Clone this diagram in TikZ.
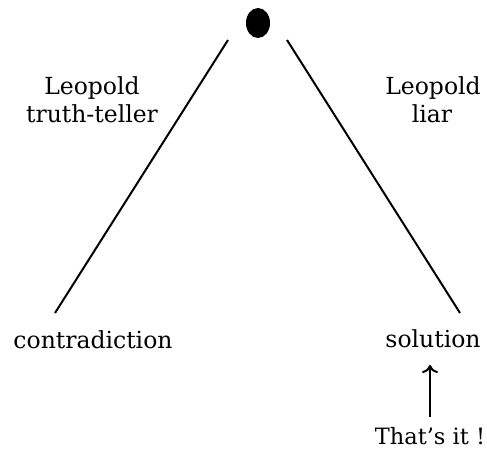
\documentclass[tikz,border=0pt]{standalone}
\usepackage{fontspec}
\setmainfont{DejaVu Serif}
\usetikzlibrary{shapes.geometric,arrows.meta}
\tikzset{
  lbl/.style={anchor=base, inner sep=0pt, font=\fontsize{23.5}{28}\selectfont},
  small lbl/.style={lbl, font=\fontsize{22.5}{27}\selectfont},
  branch/.style={line width=2pt},
  pointer/.style={line width=2pt, -{To[length=8pt,width=16pt]}}
}
\begin{document}
\begin{tikzpicture}[x=1pt,y=1pt]
\useasboundingbox (0,0) rectangle (487,448);
\node[ellipse, fill=black, minimum width=24pt, minimum height=30pt, inner sep=0pt] (dot) at (258,425) {};
\coordinate (lt) at (228,408);
\coordinate (lb) at (55,135);
\coordinate (rt) at (287,408);
\coordinate (rb) at (460,135);
\draw[branch] (lt) -- (lb);
\draw[branch] (rt) -- (rb);
\node[lbl] (l1) at (92,353) {Leopold};
\node[lbl] (l2) at (92,325) {truth-teller};
\node[lbl] (r1) at (433,353) {Leopold};
\node[lbl] (r2) at (432,325) {liar};
\node[lbl] (contra) at (93,100) {contradiction};
\node[lbl] (sol) at (433,101) {solution};
\node[small lbl] (it) at (430,4) {That’s it !};
\coordinate (ab) at (430,31);
\coordinate (at) at (430,83);
\draw[pointer] (ab) -- (at);
\end{tikzpicture}
\end{document}
